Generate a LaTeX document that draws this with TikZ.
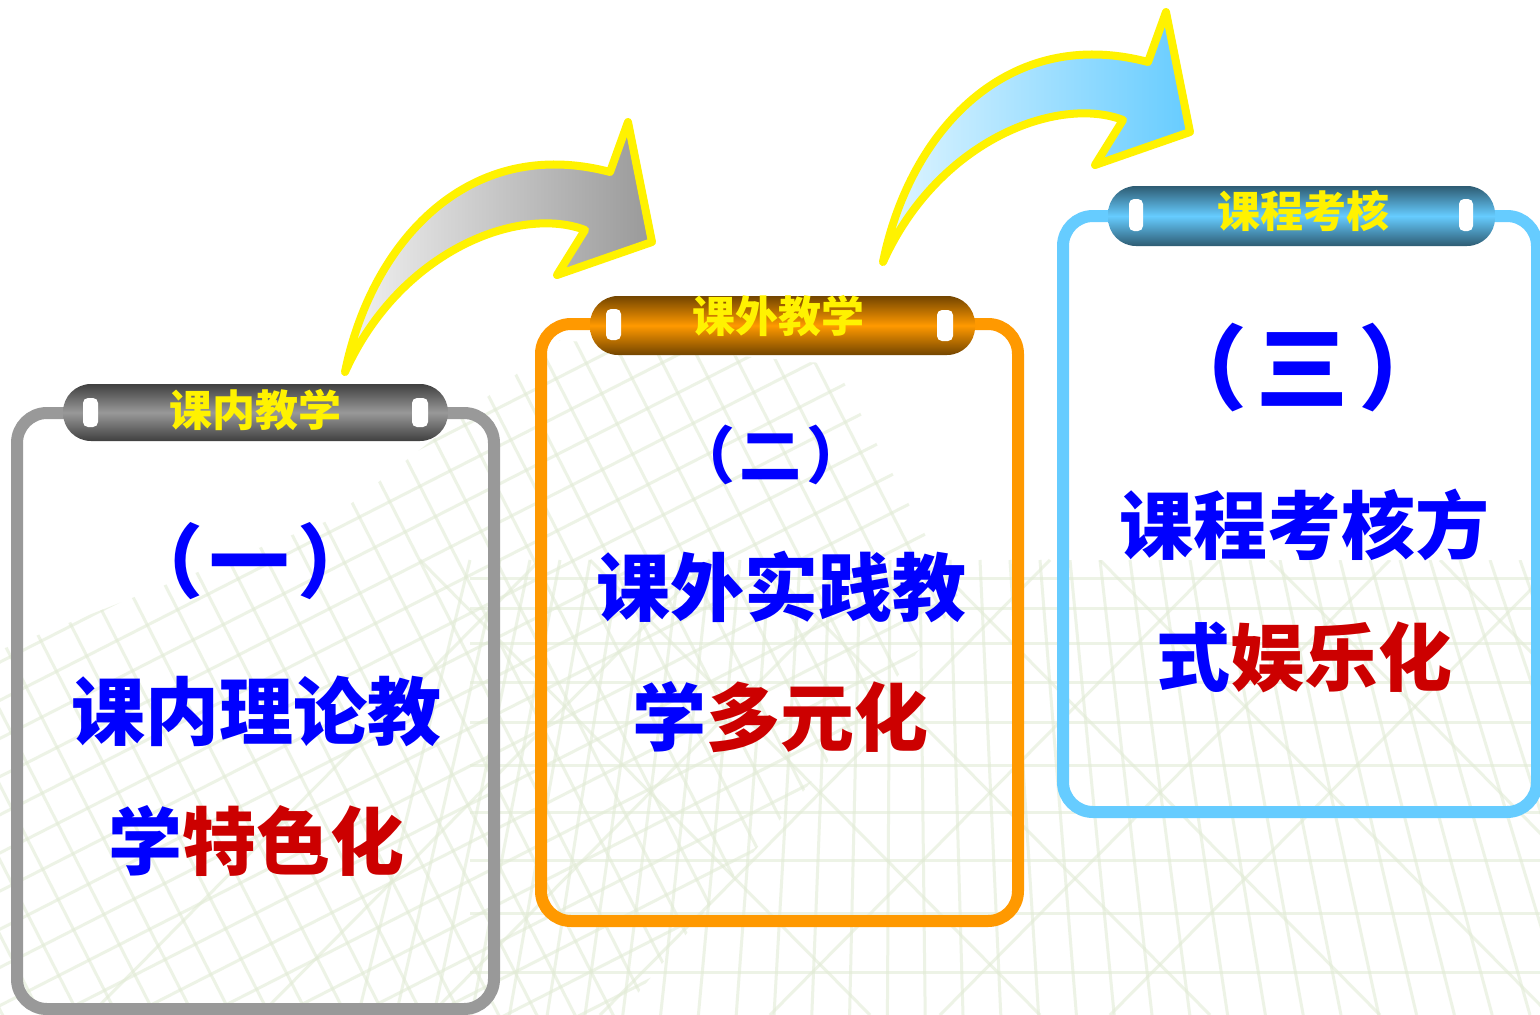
\documentclass[tikz,border=0pt]{standalone}
\usepackage{fontspec}
\newfontfamily\cjk{Noto Sans CJK SC}
\usepackage{tikz}
\usepackage{xcolor}
\definecolor{grayA}{HTML}{999999}
\definecolor{orangeA}{HTML}{FF9900}
\definecolor{skyA}{HTML}{66CCFF}
\definecolor{blueA}{HTML}{0000FF}
\definecolor{redA}{HTML}{CC0000}
\definecolor{gridC}{HTML}{E2EBD6}
\tikzset{%
  boxA/.style={line width=12pt, rounded corners=30pt},
  tabA/.style={rounded corners=28pt},
  holeA/.style={fill=white, rounded corners=5pt},
  arrA/.style={draw=yellow, line width=8pt, line join=round},
  gridA/.style={draw=gridC, line width=3pt, draw opacity=0.6},
  tabtxt/.style={font=\cjk\bfseries\fontsize{43}{43}\selectfont, text=yellow, inner sep=0pt},
  txtA/.style={font=\cjk\bfseries\fontsize{74}{74}\selectfont, text=blueA, inner sep=0pt},
  parA/.style={font=\cjk\bfseries\fontsize{#1}{#1}\selectfont, text=blueA, inner sep=0pt}
}

\begin{document}
\begin{tikzpicture}[x=1pt,y=-1pt]
\useasboundingbox (0,0) rectangle (1540,1015);
\fill[white] (0,0) rectangle (1540,1015);
\begin{scope}
\clip (0,650) -- (330,520) -- (560,340) -- (1010,380) -- (1060,560) -- (1540,560) -- (1540,1015) -- (0,1015) -- cycle;
\foreach \y in {578,608,643,682,722,765,812,860,913,972}
  \draw[gridA] (470,\y) -- (1540,\y);
\foreach \x in {470,500,...,1560}
  \draw[gridA] (\x,560) -- ({900+(\x-900)*1.26},1015);
\foreach \d in {0,170,...,1100}
  \draw[gridA] (420+\d,560) -- (870+\d,1015);
\foreach \d in {0,170,...,1100}
  \draw[gridA] (1560-\d,560) -- (1110-\d,1015);
\begin{scope}
\clip (0,0) -- (640,0) -- (960,600) -- (620,1015) -- (0,1015) -- cycle;
\begin{scope}[rotate around={27:(300,700)}]
\foreach \i in {-24,...,24}
  \draw[gridA] (300+\i*34,0) -- (300+\i*34,1400);
\foreach \i in {-24,...,24}
  \draw[gridA] (-500,700+\i*34) -- (1100,700+\i*34);
\end{scope}
\end{scope}
\end{scope}
\shadedraw[arrA, left color=gray!10, right color=grayA] (345,372) .. controls (372,240) and (470,135) .. (610,172) -- (628,122) -- (652,242) -- (557,275) -- (585,230) .. controls (520,205) and (400,250) .. (345,372) -- cycle;
\begin{scope}[shift={(538,-110)}]
\shadedraw[arrA, left color=skyA!20, right color=skyA] (345,372) .. controls (372,240) and (470,135) .. (610,172) -- (628,122) -- (652,242) -- (557,275) -- (585,230) .. controls (520,205) and (400,250) .. (345,372) -- cycle;
\end{scope}
\draw[boxA, draw=grayA] (17,413) rectangle (494,1009);
\draw[boxA, draw=orangeA] (541,324) rectangle (1018,921);
\draw[boxA, draw=skyA] (1063,216) rectangle (1537,812);
\shade[tabA, top color=black!75, bottom color=black!75, middle color=grayA] (63,384) rectangle (448,441);
\shade[tabA, top color=orangeA!45!black, bottom color=orangeA!45!black, middle color=orangeA] (590,296) rectangle (975,355);
\shade[tabA, top color=skyA!45!black, bottom color=skyA!45!black, middle color=skyA] (1108,186) rectangle (1495,246);
\fill[holeA] (83,398) rectangle (98,427);
\fill[holeA] (412,398) rectangle (428,427);
\fill[holeA] (606,309) rectangle (621,340);
\fill[holeA] (937,310) rectangle (953,341);
\fill[holeA] (1129,199) rectangle (1143,231);
\fill[holeA] (1459,199) rectangle (1473,231);
\node[tabtxt] (t1) at (255,410) {课内教学};
\node[tabtxt] (t2) at (778,316) {课外教学};
\node[tabtxt] (t3) at (1303,211) {课程考核};
\node[parA=80] (p1) at (250,561) {（\hspace{7pt}一\hspace{7pt}）};
\node[txtA] (l1a) at (256,711) {课内理论教};
\node[txtA] (l1b) at (256,841) {学\textcolor{redA}{特色化}};
\node[parA=62] (p2) at (771,455) {（\hspace{5pt}二\hspace{5pt}）};
\node[txtA] (l2a) at (781,587) {课外实践教};
\node[txtA] (l2b) at (780,717) {学\textcolor{redA}{多元化}};
\node[parA=92] (p3) at (1303,368) {（\hspace{10pt}三\hspace{10pt}）};
\node[txtA] (l3a) at (1304,525) {课程考核方};
\node[txtA] (l3b) at (1304,657) {式\textcolor{redA}{娱乐化}};
\end{tikzpicture}
\end{document}
